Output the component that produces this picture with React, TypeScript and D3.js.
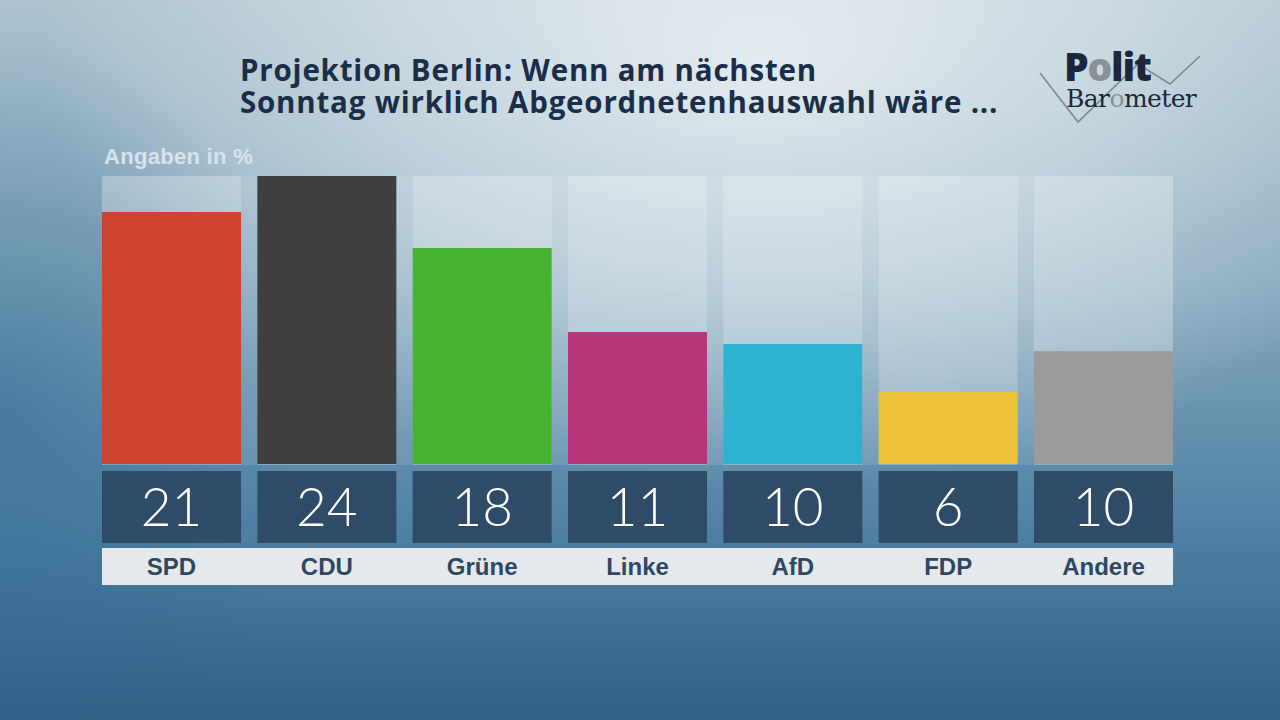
import React from "react";
import * as d3 from "d3";

const parties = ["SPD", "CDU", "Grüne", "Linke", "AfD", "FDP", "Andere"];
const shownValues = [21, 24, 18, 11, 10, 6, 10];
const barValues = [21, 24, 18, 11, 10, 6, 9.4];
const partyColors = ["#cc4331", "#3f3f3f", "#47b32e", "#b8357c", "#2fb2cf", "#ebc135", "#9a9a9a"];
const titleLines = [
  "Projektion Berlin: Wenn am nächsten",
  "Sonntag wirklich Abgeordnetenhauswahl wäre ...",
];
const unitLabel = "Angaben in %";

const W = 1280;
const H = 720;
const left = 102;
const right = 1173;
const barTop = 176;
const barBottom = 464;

export default function App() {
  const x = d3.scaleBand<string>().domain(parties).range([left, right]).paddingInner(0.105).paddingOuter(0);
  const y = d3.scaleLinear().domain([0, 24]).range([barBottom, barTop]);
  const bw = x.bandwidth();
  const font = "'Open Sans', 'Liberation Sans', Arial, sans-serif";
  const font2 = "'Liberation Sans', Arial, sans-serif";

  return (
    <svg width={W} height={H} style={{ position: "absolute", left: 0, top: 0 }}>
      <defs>
        <linearGradient id="bg" x1="0" y1="0" x2="0" y2="1">
          <stop offset="0" stopColor="#abc2cf" />
          <stop offset="0.4" stopColor="#84a7bd" />
          <stop offset="0.75" stopColor="#4d7fa3" />
          <stop offset="1" stopColor="#2f6086" />
        </linearGradient>
        <radialGradient id="glow" cx="760" cy="60" r="720" gradientUnits="userSpaceOnUse" gradientTransform="translate(760 60) scale(1 0.6) translate(-760 -60)">
          <stop offset="0" stopColor="#ffffff" stopOpacity="0.7" />
          <stop offset="0.5" stopColor="#ffffff" stopOpacity="0.4" />
          <stop offset="1" stopColor="#ffffff" stopOpacity="0" />
        </radialGradient>
        <radialGradient id="sideL" cx="0" cy="420" r="380" gradientUnits="userSpaceOnUse" gradientTransform="translate(0 420) scale(0.8 1) translate(0 -420)">
          <stop offset="0" stopColor="#2d6890" stopOpacity="0.55" />
          <stop offset="1" stopColor="#2d6890" stopOpacity="0" />
        </radialGradient>
      </defs>
      <rect x={0} y={0} width={W} height={H} fill="url(#bg)" />
      <rect x={0} y={0} width={W} height={H} fill="url(#glow)" />
      <rect x={0} y={0} width={W} height={H} fill="url(#sideL)" />

      {/* panel */}
      <rect x={left} y={barTop} width={right - left} height={barBottom - barTop + 1} fill="#ffffff" opacity={0.1} />
      {parties.map((p) => (
        <rect key={"bgc" + p} x={x(p)} y={barTop} width={bw} height={barBottom - barTop + 1} fill="#ffffff" opacity={0.2} />
      ))}

      {/* bars */}
      {parties.map((p, i) => (
        <rect key={"bar" + p} x={x(p)} y={y(barValues[i])} width={bw} height={barBottom - y(barValues[i])} fill={partyColors[i]} />
      ))}

      {/* number boxes */}
      {parties.map((p, i) => (
        <g key={"num" + p}>
          <rect x={x(p)} y={471} width={bw} height={72} fill="#2e4b68" />
          <text x={(x(p) as number) + bw / 2} y={526} textAnchor="middle" fill="#ffffff" fontFamily="Lato, 'Open Sans', sans-serif" fontWeight={300} fontSize={53}>
            {shownValues[i]}
          </text>
        </g>
      ))}

      {/* label strip */}
      <rect x={left} y={548} width={right - left} height={37} fill="#e6e9ec" />
      {parties.map((p) => (
        <text key={"lab" + p} x={(x(p) as number) + bw / 2} y={575} textAnchor="middle" fill="#2c4863" fontFamily={font2} fontWeight={700} fontSize={24}>
          {p}
        </text>
      ))}

      {/* unit */}
      <text x={104} y={164} fill="#d8e3eb" fontFamily={font2} fontWeight={700} fontSize={22} letterSpacing={0.3}>
        {unitLabel}
      </text>

      {/* title */}
      {titleLines.map((t, i) => (
        <text key={"t" + i} x={240} y={81 + i * 32} fill="#1b2e48" fontFamily={font} fontWeight={700} fontSize={29.5} letterSpacing={0.8}>
          {t}
        </text>
      ))}

      {/* logo */}
      <polyline points="1040,73 1078,122 1138,64 1170,84 1200,56" fill="none" stroke="#7c8894" strokeWidth={1.6} />
      <text x={1064} y={81} fontFamily={font} fontWeight={800} fontSize={39} letterSpacing={-1.2} fill="#1c2839">
        P<tspan fill="#8a9098">o</tspan>lit
      </text>
      <text x={1066} y={107} fontFamily="'DejaVu Serif', 'Liberation Serif', serif" fontSize={25} letterSpacing={-0.6} fill="#1c2839">
        Bar<tspan fill="#8a9098">o</tspan>meter
      </text>
    </svg>
  );
}
